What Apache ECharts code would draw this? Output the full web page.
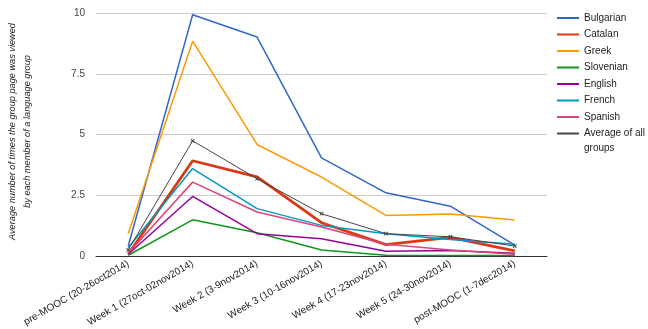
<!DOCTYPE html>
<html><head><meta charset="utf-8">
<script src="https://cdn.jsdelivr.net/npm/echarts@6/dist/echarts.min.js"></script>
<style>html,body{margin:0;padding:0;background:#fff}#c{width:648px;height:329px}</style>
</head><body><div id="c"></div>
<script>
const categories = ['pre-MOOC (20-26oct2014)','Week 1 (27oct-02nov2014)','Week 2 (3-9nov2014)','Week 3 (10-16nov2014)','Week 4 (17-23nov2014)','Week 5 (24-30nov2014)','post-MOOC (1-7dec2014)'];
const bulgarian = [0.41, 9.93, 9.01, 4.04, 2.6, 2.05, 0.45];
const catalan   = [0.07, 3.92, 3.26, 1.37, 0.47, 0.77, 0.21];
const greek     = [0.92, 8.84, 4.59, 3.25, 1.67, 1.73, 1.48];
const slovenian = [0.03, 1.49, 0.96, 0.25, 0.03, 0.02, 0.02];
const english   = [0.07, 2.45, 0.92, 0.71, 0.2, 0.23, 0.11];
const french    = [0.34, 3.6, 1.95, 1.26, 0.92, 0.68, 0.48];
const spanish   = [0.11, 3.04, 1.81, 1.19, 0.48, 0.25, 0.07];
const average   = [0.25, 4.74, 3.18, 1.74, 0.92, 0.79, 0.41];
const yTicks = [0, 2.5, 5, 7.5, 10];

const font = 'Liberation Sans, Arial, sans-serif';
const mk = (name, data, color, width) => ({
  name, type: 'line', data, symbol: 'none', z: 2,
  lineStyle: {color, width}, itemStyle: {color}
});
const series = [
  mk('Bulgarian', bulgarian, '#3366cc', 1.5),
  mk('Catalan', catalan, '#dc3912', 2.8),
  mk('Greek', greek, '#ff9900', 1.5),
  mk('Slovenian', slovenian, '#109618', 1.5),
  mk('English', english, '#990099', 1.5),
  mk('French', french, '#0099c6', 1.5),
  mk('Spanish', spanish, '#dd4477', 1.5),
  Object.assign(mk('Average of all groups', average, '#444444', 1), {
    symbol: 'path://M4,0H6V4H10V6H6V10H4V6H0V4H4Z', symbolSize: 5, symbolRotate: 45, showSymbol: true
  })
];
const chart = echarts.init(document.getElementById('c'), null, {renderer: 'canvas'});
chart.setOption({
  animation: false,
  textStyle: {fontFamily: font},
  grid: {left: 96, right: 101, top: 13, bottom: 73, containLabel: false, outerBoundsMode: 'none'},
  legend: {
    orient: 'vertical', left: 557, top: 12, icon: 'rect', itemWidth: 22, itemHeight: 2,
    itemGap: 4.5, padding: 0,
    textStyle: {fontSize: 10, color: '#222', lineHeight: 12, fontFamily: font},
    formatter: n => n === 'Average of all groups' ? 'Average of all' : n,
    data: series.map(s => s.name)
  },
  graphic: [{type: 'text', left: 584, top: 143, style: {text: 'groups', fontSize: 10, fill: '#222', fontFamily: font}}],
  xAxis: {
    type: 'category', data: categories, boundaryGap: true,
    axisLine: {lineStyle: {color: '#333', width: 1}},
    axisTick: {show: false},
    axisLabel: {rotate: 30, fontSize: 10, color: '#222', margin: 7, interval: 0}
  },
  yAxis: {
    type: 'value', min: 0, max: 10, interval: 2.5,
    name: 'Average number of times the group page was viewed\nby each member of a language group',
    nameLocation: 'middle', nameGap: 61, nameRotate: 90,
    nameTextStyle: {fontStyle: 'italic', fontSize: 9.2, color: '#222', lineHeight: 15, padding: [0, 0, 0, 6]},
    axisLine: {show: false}, axisTick: {show: false},
    axisLabel: {fontSize: 10, color: '#444', margin: 11, formatter: v => String(v)},
    splitLine: {lineStyle: {color: '#ccc'}}
  },
  series
});
</script></body></html>
